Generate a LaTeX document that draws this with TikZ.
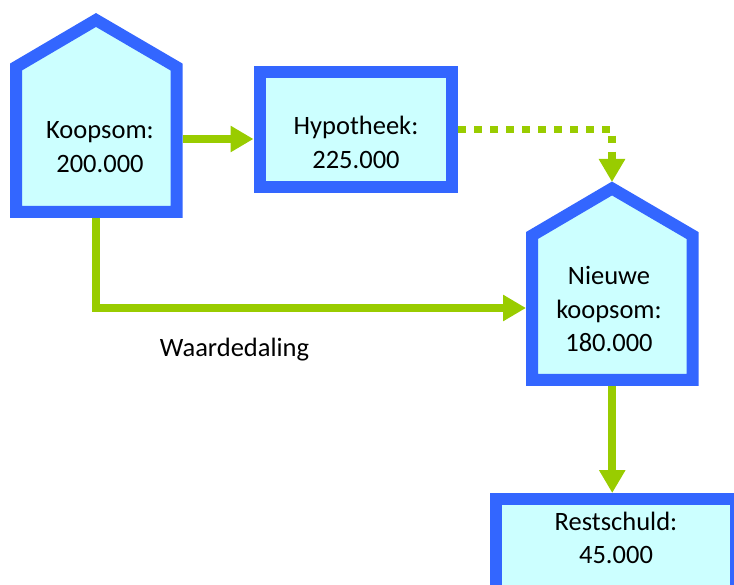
\documentclass[tikz,border=0pt]{standalone}
\usepackage{fontspec}
\setmainfont{Carlito}
\usetikzlibrary{arrows.meta}
\definecolor{frameblue}{HTML}{3366FF}
\definecolor{boxfill}{HTML}{CCFFFF}
\definecolor{flowgreen}{HTML}{99CC00}
\newcommand{\twolines}[1]{\begin{tabular}[t]{@{}c@{}}#1\end{tabular}}
\begin{document}
\begin{tikzpicture}[x=1pt,y=-1pt,
  frame/.style={draw=frameblue,fill=boxfill,line width=12pt,miter limit=10},
  box/.style={frame,rectangle,inner sep=0pt},
  housebody/.style={rectangle,inner sep=0pt,outer sep=0pt,minimum width=172.5pt},
  lbl/.style={font=\fontsize{26.5}{33.5}\selectfont,inner sep=0pt,anchor=base},
  flow/.style={draw=flowgreen,line width=8pt,-{Triangle[length=23pt,width=25pt]}},
  dotflow/.style={flow,line width=7.5pt,dash pattern=on 7.5pt off 8.5pt}]
\useasboundingbox (0,0) rectangle (734,585);
\clip (0,0) rectangle (734,585);

% house outlines
\path[frame] (16,67) -- (96,20) -- (176.5,67) -- (176.5,212) -- (16,212) -- cycle;
\path[frame] (532,235.5) -- (612,188.5) -- (692.5,235.5) -- (692.5,380) -- (532,380) -- cycle;

% house bodies used as connector anchors
\node[housebody,minimum height=158pt] (koop) at (96.25,139) {};
\node[housebody,minimum height=156pt] (nieuw) at (612.25,308) {};
\coordinate (nieuwtop) at (612,182);

% rectangular boxes
\node[box,minimum width=192.5pt,minimum height=114.5pt] (hyp) at (355.75,129.75) {};
\node[box,minimum width=240pt,minimum height=101pt] (rest) at (616,549.5) {};

% labels
\node[lbl] (kooptext) at (100,139) {\twolines{Koopsom:\\200.000}};
\node[lbl] (hyptext) at (356,135) {\twolines{Hypotheek:\\225.000}};
\node[lbl] (nieuwtext) at (609,285) {\twolines{Nieuwe\\koopsom:\\180.000}};
\node[lbl] (resttext) at (616,530) {\twolines{Restschuld:\\45.000}};
\node[lbl] (waarde) at (234.5,357) {Waardedaling};

% connectors
\draw[flow] (koop.east) -- (hyp.west |- koop.east);
\draw[dotflow] (hyp.east) -| (nieuwtop);
\draw[flow] (koop.south) |- (nieuw.west);
\draw[flow] (nieuw.south) -- (nieuw.south |- rest.north);
\end{tikzpicture}
\end{document}
